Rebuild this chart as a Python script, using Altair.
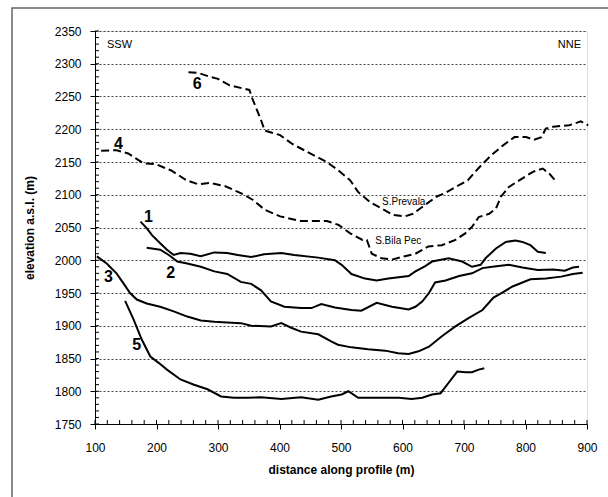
import altair as alt
import pandas as pd

# ---- data ----
x1 = [174,184,193,206,217,228,239,255,272,294,315,332,354,375,403,424,463,490,501,517,539,558,577,610,621,637,648,675,697,713,727,735,752,768,784,795,808,820,833]
y1 = [2059,2049,2038,2026,2016,2008,2011,2010,2006,2012,2011,2008,2005,2009,2011,2008,2004,2000,1993,1979,1972,1969,1972,1976,1983,1991,1998,2003,1998,1990,1993,2003,2018,2028,2030,2028,2023,2013,2011]

x2 = [184,206,220,234,250,272,294,315,337,354,370,386,408,435,452,468,490,517,533,558,583,610,621,632,643,653,670,692,713,730,746,773,795,820,845,864,877,887]
y2 = [2019,2016,2008,1998,1995,1990,1983,1979,1967,1964,1954,1937,1929,1927,1927,1933,1928,1924,1923,1935,1929,1925,1929,1937,1950,1966,1969,1976,1980,1988,1990,1993,1989,1985,1986,1984,1989,1990]

x3 = [103,119,135,146,157,168,184,206,228,250,272,294,315,337,354,386,403,419,435,463,484,495,517,544,572,593,610,626,643,664,686,708,730,748,763,779,795,808,833,858,877,893]
y3 = [2006,1995,1980,1965,1950,1940,1934,1929,1922,1914,1908,1906,1905,1904,1900,1899,1904,1897,1891,1887,1876,1871,1867,1864,1862,1858,1857,1861,1868,1884,1899,1912,1924,1943,1951,1960,1966,1971,1972,1975,1979,1981]

x5 = [149,163,176,190,204,217,239,261,283,305,326,348,370,403,435,463,484,501,512,528,561,594,615,632,648,662,675,689,703,713,724,733]
y5 = [1938,1909,1879,1853,1843,1833,1818,1810,1803,1792,1790,1790,1791,1788,1791,1787,1792,1795,1800,1790,1790,1790,1788,1790,1795,1797,1813,1830,1829,1829,1833,1835]

x4 = [110,135,154,179,198,224,249,268,287,312,338,357,376,401,433,452,477,496,515,535,542,550,566,583,599,621,642,664,686,702,713,724,741,752,760,773,795,812,828,839,850]
y4 = [2167,2168,2163,2148,2147,2137,2122,2116,2118,2113,2102,2092,2077,2067,2060,2060,2060,2054,2041,2031,2031,2010,2003,2001,2005,2010,2021,2023,2031,2041,2051,2066,2071,2079,2097,2112,2125,2135,2140,2132,2120]

x6 = [252,268,287,300,319,351,357,370,376,401,420,446,477,496,515,528,547,566,585,604,617,636,655,668,687,706,725,744,763,782,801,814,826,833,845,871,890,902]
y6 = [2287,2286,2280,2277,2267,2260,2244,2214,2198,2191,2178,2165,2150,2137,2122,2104,2089,2079,2069,2067,2071,2084,2097,2102,2112,2122,2142,2160,2175,2188,2188,2184,2188,2201,2204,2206,2212,2206]

num_labels = ["1", "2", "3", "4", "5", "6"]
num_x = [187, 223, 122, 138, 168, 266]
num_y = [2066, 1980, 1975, 2178, 1871, 2269]

site_labels = ["S.Prevala", "S.Bila Pec"]
site_x = [602, 593]
site_y = [2089, 2029]

y_ticks = list(range(1750, 2351, 50))
x_ticks = list(range(100, 901, 100))
y_minor = list(range(1750, 2351, 10))
x_minor = list(range(100, 901, 20))

W, H = 492, 393
FONT = "Liberation Sans"


def frame(xs, ys, name):
    return pd.DataFrame({"x": xs, "y": ys, "series": name})


solid = pd.concat([frame(x1, y1, "1"), frame(x2, y2, "2"),
                   frame(x3, y3, "3"), frame(x5, y5, "5")])
dashed = pd.concat([frame(x4, y4, "4"), frame(x6, y6, "6")])

xscale = alt.Scale(domain=[100, 900], nice=False, zero=False)
yscale = alt.Scale(domain=[1750, 2350], nice=False, zero=False)

xaxis = alt.Axis(values=x_ticks, title="distance along profile (m)", grid=False,
                 labelFont=FONT, labelFontSize=12, labelColor="black", labelOverlap=False,
                 labelFlush=False,
                 titleFont=FONT, titleFontSize=12, titleFontWeight="bold", titleColor="black",
                 tickSize=5, tickColor="black", domainColor="black", labelPadding=13,
                 titlePadding=11, format="d")
yaxis = alt.Axis(values=y_ticks, title="elevation a.s.l. (m)", grid=True,
                 gridColor="#444444", gridDash=[2, 2], gridWidth=1, labelOverlap=False,
                 labelFlush=False,
                 labelFont=FONT, labelFontSize=12, labelColor="black",
                 titleFont=FONT, titleFontSize=12, titleFontWeight="bold", titleColor="black",
                 tickSize=5, tickColor="black", domainColor="black", labelPadding=9,
                 titlePadding=18, format="d")

X = lambda f: alt.X(f, scale=xscale, axis=xaxis, title="distance along profile (m)")
Y = lambda f: alt.Y(f, scale=yscale, axis=yaxis, title="elevation a.s.l. (m)")

solid_lines = alt.Chart(solid).mark_line(color="black", strokeWidth=2).encode(
    x=X("x:Q"), y=Y("y:Q"), detail="series:N",
)
dashed_lines = alt.Chart(dashed).mark_line(color="black", strokeWidth=2, strokeDash=[8, 4]).encode(
    x=X("x:Q"), y=Y("y:Q"), detail="series:N",
)

ymin = alt.Chart(pd.DataFrame({"v": y_minor})).mark_rule(color="black", strokeWidth=1).encode(
    y=Y("v:Q"), x=alt.value(0), x2=alt.value(4))
xmin = alt.Chart(pd.DataFrame({"v": x_minor})).mark_rule(color="black", strokeWidth=1).encode(
    x=X("v:Q"), y=alt.value(H), y2=alt.value(H - 4))

nums = alt.Chart(pd.DataFrame({"t": num_labels, "x": num_x, "y": num_y})).mark_text(
    font=FONT, fontSize=16, fontWeight="bold", color="black").encode(
    x=X("x:Q"), y=Y("y:Q"), text="t:N")

sites = alt.Chart(pd.DataFrame({"t": site_labels, "x": site_x, "y": site_y})).mark_text(
    font=FONT, fontSize=10, color="black").encode(
    x=X("x:Q"), y=Y("y:Q"), text="t:N")

ssw = alt.Chart(pd.DataFrame({"t": ["SSW"]})).mark_text(
    font=FONT, fontSize=11, align="left", baseline="middle", color="black").encode(
    x=alt.value(12), y=alt.value(14), text="t:N")
nne = alt.Chart(pd.DataFrame({"t": ["NNE"]})).mark_text(
    font=FONT, fontSize=11, align="right", baseline="middle", color="black").encode(
    x=alt.value(486), y=alt.value(14), text="t:N")

outer = alt.Chart(pd.DataFrame({"k": [0]})).mark_rect(
    fill=None, stroke="#666666", strokeWidth=1.5, clip=False).encode(
    x=alt.value(-83), x2=alt.value(700), y=alt.value(-23), y2=alt.value(600))

chart = alt.layer(outer, solid_lines, dashed_lines, ymin, xmin, nums, sites, ssw, nne).properties(
    width=W, height=H,
    autosize=alt.AutoSizeParams(type="none"),
    padding={"left": 95, "top": 31, "right": 21, "bottom": 73},
).configure_view(stroke="#777777", strokeWidth=1.5).configure(background="white")

chart.save("out.html", embed_options={"renderer": "svg", "actions": False})
